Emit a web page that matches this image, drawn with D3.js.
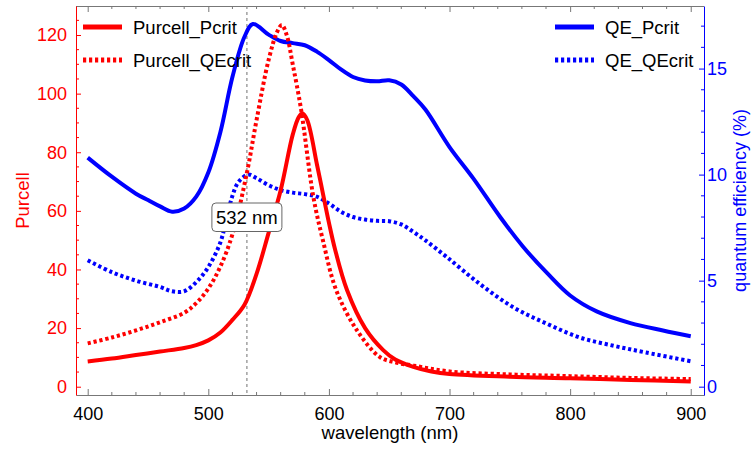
<!DOCTYPE html>
<html>
<head>
<meta charset="utf-8">
<script src="https://cdn.jsdelivr.net/npm/d3@7"></script>
<style>
  html, body { margin: 0; padding: 0; background: #fff; }
  svg { display: block; font-family: "Liberation Sans", Arial, sans-serif; }
</style>
</head>
<body>
<svg id="chart" width="751" height="451"></svg>
<script>
// ---- data ----
const purcellPcritX = [400,420,440,460,480,490,500,510,520,530,540,550,560,570,575,578,582,590,595,600,605,615,630,645,655,670,685,700,750,800,850,900];
const purcellPcritY = [8.6,9.6,10.8,12.0,13.2,14.2,15.8,18.5,22.8,28.0,38.5,52.5,67,86,92,93.2,91,76,66,56,47,33,20,12.5,9.3,6.8,5.2,4.3,3.4,2.9,2.3,1.8];

const purcellQEcritX = [400,420,440,460,480,490,500,510,520,532,540,550,557,561,565,570,577,587,595,606,623,642,655,670,700,750,800,850,900];
const purcellQEcritY = [14.8,16.8,19.2,22,25.2,28.5,33.5,41,52,73,91,111.5,121,123.4,120,110,94.4,65,50,33,19.4,10.2,8.3,7.2,5.2,4.2,3.6,3.0,2.6];

const qePcritX = [400,420,440,450,460,470,480,490,500,510,520,530,537,550,560,570,580,590,600,610,620,630,640,650,660,670,680,700,720,742,761,781,800,822,850,877,900];
const qePcritY = [10.8,9.9,9.1,8.8,8.5,8.25,8.4,8.96,10.1,12.0,14.6,16.5,17.1,16.6,16.3,16.2,16.1,15.8,15.4,14.96,14.6,14.44,14.4,14.45,14.25,13.7,13.07,11.3,9.8,8.0,6.6,5.35,4.3,3.55,3.0,2.65,2.38];

const qeQEcritX = [400,420,440,460,470,480,490,500,510,515,520,525,533,540,550,560,570,580,590,600,610,620,630,640,650,660,670,680,698,725,753,781,808,836,863,900];
const qeQEcritY = [5.96,5.4,5.0,4.7,4.5,4.5,4.93,5.64,6.8,7.9,9.0,9.65,10.0,9.83,9.5,9.27,9.15,9.08,8.96,8.64,8.25,8.0,7.88,7.82,7.8,7.65,7.3,6.9,6.1,4.85,3.74,2.96,2.32,1.93,1.61,1.2];

const xTicks = [400,500,600,700,800,900];
const purcellTicks = [0,20,40,60,80,100,120];
const qeTicks = [0,5,10,15];
const markerWavelength = 532;
const markerLabel = "532 nm";

const legendLeft = [
  {name: "Purcell_Pcrit", color: "#ff0000", dotted: false},
  {name: "Purcell_QEcrit", color: "#ff0000", dotted: true}
];
const legendRight = [
  {name: "QE_Pcrit", color: "#0000ff", dotted: false},
  {name: "QE_QEcrit", color: "#0000ff", dotted: true}
];

// ---- layout ----
const svg = d3.select("#chart");
const PL = 76, PR = 704, PT = 6, PB = 395;
const RED = "#ff0000", BLUE = "#0000ff", FRAME = "#777";
const DOT = "3.2,2.8";

const xS = d3.scaleLinear().domain([390.3, 911.0]).range([PL, PR]);
const yP = d3.scaleLinear().domain([-2.83, 129.9]).range([PB, PT]);
const yQ = d3.scaleLinear().domain([-0.392, 17.95]).range([PB, PT]);

// frame top
svg.append("line").attr("x1", PL).attr("x2", PR).attr("y1", PT + 0.5).attr("y2", PT + 0.5).attr("stroke", FRAME);

// dashed marker line
svg.append("line")
  .attr("x1", xS(markerWavelength)).attr("x2", xS(markerWavelength))
  .attr("y1", PT).attr("y2", PB)
  .attr("stroke", "#888").attr("stroke-width", 1.2).attr("stroke-dasharray", "3,3");

// axes
const xMinor = d3.range(400, 911, 20).filter(v => v % 100 !== 0);
const axBottom = svg.append("g").attr("transform", `translate(0,${PB})`)
  .call(d3.axisBottom(xS).tickValues(xTicks).tickSizeInner(-6).tickSizeOuter(0).tickPadding(12));
axBottom.select(".domain").attr("stroke", FRAME);
axBottom.selectAll(".tick line").attr("stroke", FRAME);
axBottom.selectAll("text").attr("fill", "#000").style("font-size", "18px");
axBottom.append("g").selectAll("line").data(xMinor).join("line")
  .attr("x1", d => xS(d)).attr("x2", d => xS(d)).attr("y1", 0).attr("y2", -3).attr("stroke", FRAME);

const axTop = svg.append("g").attr("transform", `translate(0,${PT})`)
  .call(d3.axisTop(xS).tickValues(xTicks).tickSizeInner(-6).tickSizeOuter(0).tickFormat(""));
axTop.select(".domain").remove();
axTop.selectAll(".tick line").attr("stroke", FRAME);
axTop.append("g").selectAll("line").data(xMinor).join("line")
  .attr("x1", d => xS(d)).attr("x2", d => xS(d)).attr("y1", 0).attr("y2", 3).attr("stroke", FRAME);

const pMinor = d3.range(0, 130, 5).filter(v => v % 20 !== 0);
const axLeft = svg.append("g").attr("transform", `translate(${PL},0)`)
  .call(d3.axisLeft(yP).tickValues(purcellTicks).tickSizeInner(-5).tickSizeOuter(0).tickPadding(9));
axLeft.select(".domain").attr("stroke", RED);
axLeft.selectAll(".tick line").attr("stroke", RED);
axLeft.selectAll("text").attr("fill", RED).style("font-size", "18px");
axLeft.append("g").selectAll("line").data(pMinor).join("line")
  .attr("y1", d => yP(d)).attr("y2", d => yP(d)).attr("x1", 0).attr("x2", 3).attr("stroke", RED);

const qMinor = d3.range(0, 18, 1).filter(v => v % 5 !== 0);
const axRight = svg.append("g").attr("transform", `translate(${PR},0)`)
  .call(d3.axisRight(yQ).tickValues(qeTicks).tickSizeInner(-5).tickSizeOuter(0).tickPadding(3));
axRight.select(".domain").attr("stroke", BLUE);
axRight.selectAll(".tick line").attr("stroke", BLUE);
axRight.selectAll("text").attr("fill", BLUE).style("font-size", "18px");
axRight.append("g").selectAll("line").data(qMinor).join("line")
  .attr("y1", d => yQ(d)).attr("y2", d => yQ(d)).attr("x1", 0).attr("x2", -3).attr("stroke", BLUE);

// axis titles
svg.append("text").attr("x", (PL + PR) / 2).attr("y", 439).attr("text-anchor", "middle")
  .style("font-size", "18.5px").attr("fill", "#000").text("wavelength (nm)");
svg.append("text").attr("transform", `translate(29,${(PT + PB) / 2}) rotate(-90)`).attr("text-anchor", "middle")
  .style("font-size", "18.5px").attr("fill", RED).text("Purcell");
svg.append("text").attr("transform", `translate(746,${(PT + PB) / 2}) rotate(-90)`).attr("text-anchor", "middle")
  .style("font-size", "18px").attr("fill", BLUE).text("quantum efficiency (%)");

// curves
const plot = svg.append("g");
function drawCurve(xs, ys, yScale, color, dotted) {
  const data = xs.map((v, i) => [v, ys[i]]);
  const line = d3.line().x(d => xS(d[0])).y(d => yScale(d[1])).curve(d3.curveCatmullRom.alpha(0.5));
  plot.append("path").datum(data).attr("d", line)
    .attr("fill", "none").attr("stroke", color).attr("stroke-width", 4)
    .attr("stroke-dasharray", dotted ? DOT : null)
    .attr("stroke-linejoin", "round");
}
drawCurve(qeQEcritX, qeQEcritY, yQ, BLUE, true);
drawCurve(qePcritX, qePcritY, yQ, BLUE, false);
drawCurve(purcellQEcritX, purcellQEcritY, yP, RED, true);
drawCurve(purcellPcritX, purcellPcritY, yP, RED, false);

// marker label
const lab = svg.append("g").attr("transform", `translate(${xS(markerWavelength)},217.5)`);
lab.append("rect").attr("x", -35).attr("y", -14.5).attr("width", 70).attr("height", 28.5)
  .attr("rx", 4).attr("fill", "#fff").attr("stroke", "#666").attr("stroke-width", 1);
lab.append("text").attr("x", 0).attr("y", 6.5).attr("text-anchor", "middle")
  .style("font-size", "18.5px").attr("fill", "#000").text(markerLabel);

// legends
function legend(items, x0, y0) {
  items.forEach((it, i) => {
    const yy = y0 + i * 33;
    svg.append("line").attr("x1", x0).attr("x2", x0 + 39).attr("y1", yy).attr("y2", yy)
      .attr("stroke", it.color).attr("stroke-width", 5)
      .attr("stroke-dasharray", it.dotted ? DOT : null);
    svg.append("text").attr("x", x0 + 50).attr("y", yy + 6.5)
      .style("font-size", "18.5px").attr("fill", "#000").text(it.name);
  });
}
legend(legendLeft, 83, 27);
legend(legendRight, 555, 27);
</script>
</body>
</html>
